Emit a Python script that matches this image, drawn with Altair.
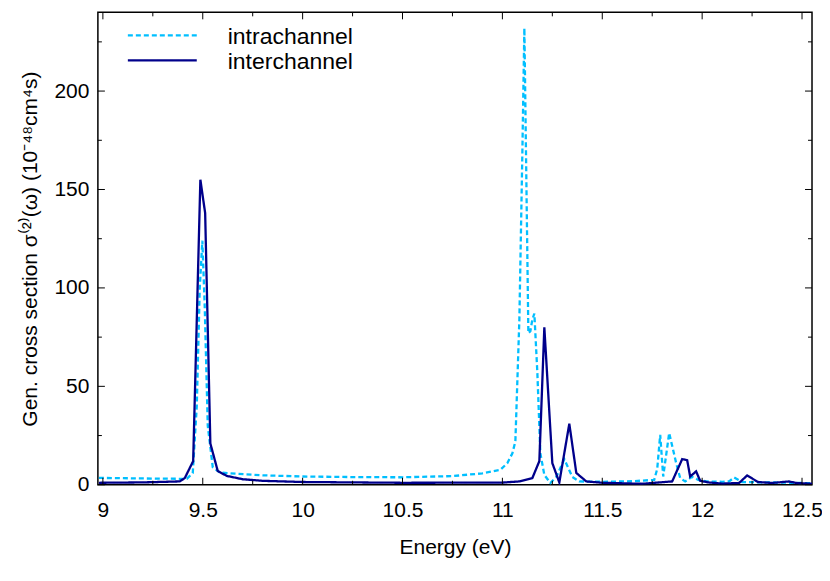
import altair as alt
import pandas as pd

# ---- data ----
series_names = ["intrachannel", "interchannel"]
series_colors = ["#00BFFF", "#00008B"]

intra_E = [8.98, 9.2, 9.42, 9.45, 9.47, 9.485, 9.498, 9.51, 9.525, 9.55, 9.585, 9.67,
           9.8, 10.0, 10.25, 10.5, 10.75, 10.9, 10.99, 11.025, 11.05, 11.065, 11.085,
           11.1, 11.11, 11.13, 11.14, 11.15, 11.16, 11.175, 11.19, 11.21, 11.24, 11.27,
           11.31, 11.35, 11.385, 11.5, 11.65, 11.76, 11.775, 11.79, 11.805, 11.835,
           11.87, 11.89, 11.915, 11.95, 11.98, 12.02, 12.1, 12.135, 12.16, 12.2, 12.33,
           12.45, 12.55]
intra_V = [3.5, 3.2, 3.0, 6, 40, 100, 124, 90, 30, 9, 6.2, 5.6,
           4.8, 4.2, 3.9, 3.8, 4.4, 5.8, 7.6, 11, 16, 22, 84,
           169, 232, 77, 78, 84, 87, 57, 16, 5, 0.9, 4,
           13, 4, 1.7, 1.5, 1.8, 2.5, 8, 25.4, 4.2, 26.3,
           11, 3.4, 1.7, 4.0, 2.5, 1.7, 1.5, 1.7, 3.7, 1.4, 1.2,
           1.0, 0.8]

inter_E = [8.98, 9.2, 9.385, 9.41, 9.452, 9.488, 9.512, 9.538, 9.575, 9.62, 9.7, 9.8,
           10.0, 10.5, 11.0, 11.085, 11.15, 11.185, 11.21, 11.25, 11.285, 11.335, 11.37,
           11.42, 11.5, 11.7, 11.85, 11.9, 11.925, 11.94, 11.97, 11.99, 12.03, 12.1,
           12.185, 12.225, 12.28, 12.35, 12.435, 12.47, 12.55]
inter_V = [1.0, 1.2, 1.7, 3.4, 12, 155, 138, 21, 7, 4.5, 2.8, 2.0,
           1.4, 1.0, 1.1, 1.7, 3.4, 12, 80, 11, 1.2, 31, 6,
           1.7, 1.0, 0.5, 1.7, 13, 12.5, 4.2, 6.8, 2, 1.2, 0.6,
           0.9, 4.7, 1.4, 0.9, 1.7, 0.9, 0.5]

x_major = [9, 9.5, 10, 10.5, 11, 11.5, 12, 12.5]
x_minor = [9.25, 9.75, 10.25, 10.75, 11.25, 11.75, 12.25]
y_major = [0, 50, 100, 150, 200]
y_minor = [25, 75, 125, 175, 225]

X_DOMAIN = [8.975, 12.55]
Y_DOMAIN = [0, 240]
W, H = 715, 473
FONT = "Liberation Sans"

df = pd.concat([
    pd.DataFrame({"E": intra_E, "V": intra_V, "series": series_names[0], "ord": range(len(intra_E))}),
    pd.DataFrame({"E": inter_E, "V": inter_V, "series": series_names[1], "ord": range(len(inter_E))}),
])

xscale = alt.Scale(domain=X_DOMAIN, nice=False, zero=False)
yscale = alt.Scale(domain=Y_DOMAIN, nice=False)
cscale = alt.Scale(domain=series_names, range=series_colors)
dscale = alt.Scale(domain=series_names, range=[[5, 3], [1, 0]])

lines = alt.Chart(df).mark_line(strokeWidth=2.3, clip=True).encode(
    x=alt.X("E:Q", scale=xscale,
            axis=alt.Axis(values=x_major, format="~g", title="Energy (eV)",
                          ticks=False, domain=False, grid=False,
                          labelPadding=15, titlePadding=16)),
    y=alt.Y("V:Q", scale=yscale,
            axis=alt.Axis(values=y_major, title="Gen. cross section σ⁽²⁾(ω)  (10⁻⁴⁸cm⁴s)",
                          ticks=False, domain=False, grid=False,
                          labelPadding=9, titlePadding=13)),
    color=alt.Color("series:N", scale=cscale, legend=None),
    strokeDash=alt.StrokeDash("series:N", scale=dscale, legend=None),
    order="ord:Q",
)

# manual legend (inside plot, top-left)
leg_df = pd.DataFrame({"series": series_names})
legend_layers = []
for i, name in enumerate(series_names):
    yy = 23 + 25 * i
    base = alt.Chart(leg_df).transform_filter(alt.datum.series == name)
    legend_layers.append(
        base.mark_rule(strokeWidth=2.3).encode(
            x=alt.value(30), x2=alt.value(99), y=alt.value(yy),
            color=alt.Color("series:N", scale=cscale, legend=None),
            strokeDash=alt.StrokeDash("series:N", scale=dscale, legend=None),
        )
    )
    legend_layers.append(
        base.mark_text(align="left", baseline="middle", font=FONT, fontSize=23, color="black").encode(
            x=alt.value(130), y=alt.value(yy + 2), text="series:N"
        )
    )

xt_major = pd.DataFrame({"t": x_major})
xt_minor = pd.DataFrame({"t": x_minor})
yt_major = pd.DataFrame({"t": y_major})
yt_minor = pd.DataFrame({"t": y_minor})

def xticks(d, L):
    b = alt.Chart(d).mark_rule(color="black", strokeWidth=1)
    return (b.encode(x=alt.X("t:Q", scale=xscale), y=alt.value(H), y2=alt.value(H - L)) +
            b.encode(x=alt.X("t:Q", scale=xscale), y=alt.value(0), y2=alt.value(L)))

def yticks(d, L):
    b = alt.Chart(d).mark_rule(color="black", strokeWidth=1)
    return (b.encode(y=alt.Y("t:Q", scale=yscale), x=alt.value(0), x2=alt.value(L)) +
            b.encode(y=alt.Y("t:Q", scale=yscale), x=alt.value(W), x2=alt.value(W - L)))

chart = alt.layer(
    lines,
    xticks(xt_major, 7), xticks(xt_minor, 4),
    yticks(yt_major, 7), yticks(yt_minor, 4),
    *legend_layers,
).properties(
    width=W, height=H,
    autosize="none",
    padding={"left": 90, "top": 4, "right": 10, "bottom": 85},
    background="white",
).configure_view(
    stroke="black", strokeWidth=1.5
).configure_axis(
    labelFont=FONT, labelFontSize=21, labelColor="black",
    titleFont=FONT, titleFontSize=21, titleColor="black", titleFontWeight="normal",
)

chart.save("out.html", embed_options={"renderer": "svg", "actions": False})
